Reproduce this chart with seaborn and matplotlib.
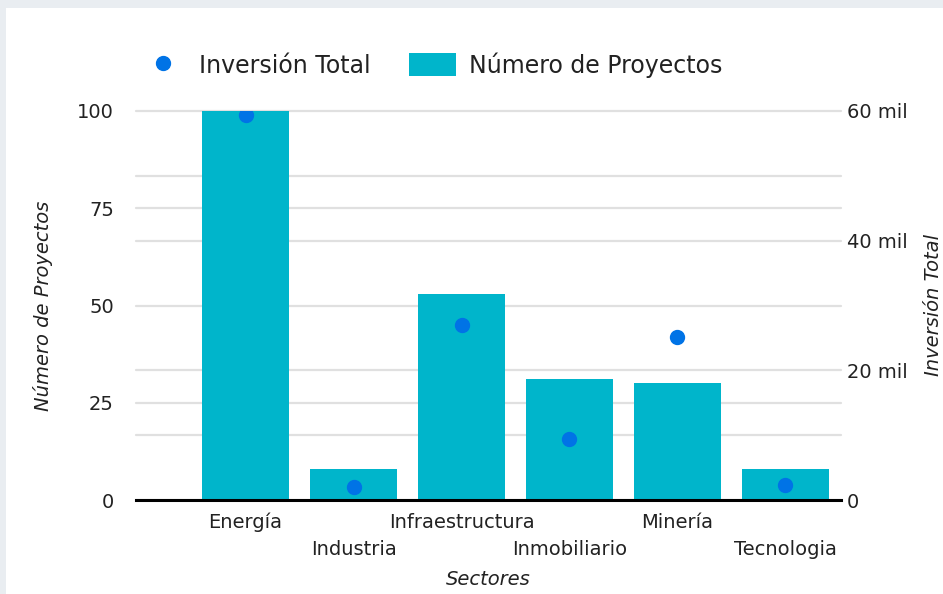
import numpy as np
import pandas as pd
import matplotlib
matplotlib.use("Agg")
import matplotlib.pyplot as plt
import matplotlib.patches as mpatches
from matplotlib.lines import Line2D
from matplotlib.ticker import FixedLocator, FuncFormatter
import seaborn as sns

# ---- data ----
sectores = ["Energía", "Industria", "Infraestructura", "Inmobiliario", "Minería", "Tecnologia"]
num_proyectos = [100, 8, 53, 31, 30, 8]
inversion_total = [59400, 2000, 27000, 9400, 25200, 2300]

left_ticks = [0, 25, 50, 75, 100]
right_ticks = [0, 20000, 40000, 60000]
right_grid = [0, 10000, 20000, 30000, 40000, 50000, 60000]

BAR = "#00b5cb"
DOT = "#0073e6"
GRID = "#e0e0e0"
TXT = "#222222"

df = pd.DataFrame({"Sector": sectores, "Proyectos": num_proyectos, "Inversion": inversion_total})

sns.set_theme(style="white")
plt.rcParams["font.family"] = ["DejaVu Sans"]

W, H = 943, 594
fig = plt.figure(figsize=(W / 100, H / 100), dpi=100)
fig.patch.set_facecolor("#e9edf1")
fig.patches.append(mpatches.Rectangle((6 / W, 0), 1, 1 - 8 / H, transform=fig.transFigure,
                                      facecolor="white", edgecolor="none", zorder=-10))

x0, x1 = 136, 841
ytop, ybot = 111, 500
ax = fig.add_axes([x0 / W, (H - ybot) / H, (x1 - x0) / W, (ybot - ytop) / H])
ax.patch.set_visible(False)

sns.barplot(data=df, x="Sector", y="Proyectos", ax=ax, color=BAR, width=0.806,
            saturation=1, edgecolor="none", zorder=3)

ax2 = ax.twinx()
sns.pointplot(data=df, x="Sector", y="Inversion", ax=ax2, color=DOT, linestyle="none",
              markersize=9, marker="o", errorbar=None, zorder=5)

ax.set_ylim(0, 100)
ax2.set_ylim(0, 60000)
ax.set_xlim(-1.014, 5.514)

# gridlines (left major + right-axis gridlines mapped as minor ticks)
ax.yaxis.set_major_locator(FixedLocator(left_ticks))
ax.yaxis.set_minor_locator(FixedLocator([v * 100 / 60000 for v in right_grid]))
ax.grid(axis="y", which="both", color=GRID, linewidth=1.6, zorder=0)
ax.grid(axis="x", visible=False)
ax.set_axisbelow(True)
ax2.grid(False)
for t in ax.yaxis.get_major_ticks() + ax.yaxis.get_minor_ticks():
    t.gridline.set_clip_on(False)

ax2.yaxis.set_major_locator(FixedLocator(right_ticks))
ax2.yaxis.set_major_formatter(FuncFormatter(lambda v, p: "0" if v == 0 else f"{int(v/1000)} mil"))

for a in (ax, ax2):
    for s in a.spines.values():
        s.set_visible(False)
ax.spines["bottom"].set_visible(True)
ax.spines["bottom"].set_color("black")
ax.spines["bottom"].set_linewidth(2.2)
ax.spines["bottom"].set_zorder(6)

fs = 14
ax.tick_params(axis="y", which="both", length=0, pad=16, labelsize=fs, labelcolor=TXT)
ax2.tick_params(axis="y", which="both", length=0, pad=4, labelsize=fs, labelcolor=TXT)
ax.tick_params(axis="x", length=0, pad=9, labelsize=fs, labelcolor=TXT)
ax2.tick_params(axis="x", length=0)

ax.xaxis.set_major_locator(FixedLocator(list(range(len(sectores)))))
ax.set_xticklabels(sectores)
for i, t in enumerate(ax.xaxis.get_major_ticks()):
    if i % 2 == 1:
        t.set_pad(29)

ax.set_xlabel("Sectores", fontsize=fs, style="italic", color=TXT, labelpad=8)
ax.set_ylabel("Número de Proyectos", fontsize=fs, style="italic", color=TXT, labelpad=17)
ax2.set_ylabel("Inversión Total", fontsize=fs, style="italic", color=TXT, labelpad=12)

handles = [Line2D([0], [0], marker="o", color="none", markerfacecolor=DOT, markeredgecolor=DOT,
                  markersize=10, label="Inversión Total"),
           mpatches.Patch(facecolor=BAR, edgecolor="none", label="Número de Proyectos")]
fig.legend(handles=handles, loc="center left", bbox_to_anchor=(118 / W, 1 - 65 / H), ncol=2,
           frameon=False, fontsize=17, handlelength=2.0, handleheight=1.1, handletextpad=0.55,
           columnspacing=1.6, labelcolor=TXT)

fig.savefig("out.png", dpi=100, facecolor=fig.get_facecolor())
